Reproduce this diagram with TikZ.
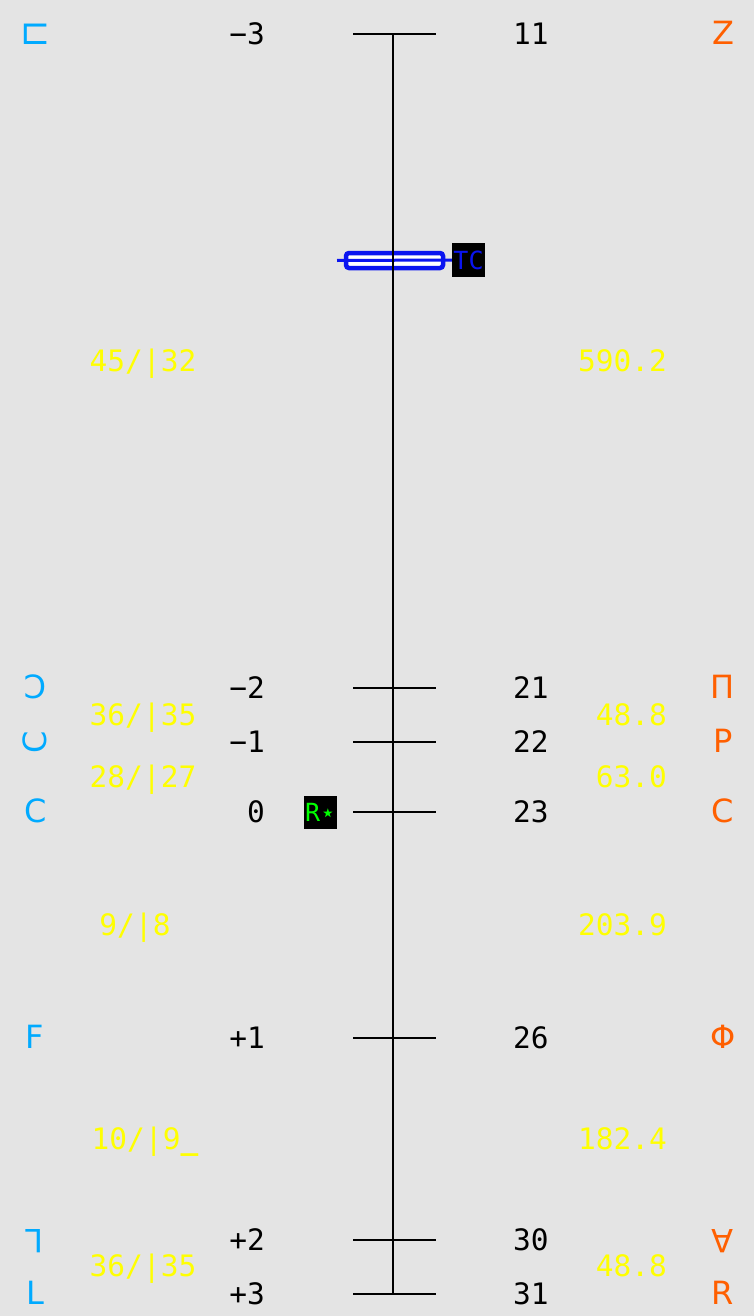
\documentclass[tikz,border=0pt]{standalone}
\usepackage{fontspec}
\newfontfamily\monof{DejaVu Sans Mono}
\newfontfamily\sansf{DejaVu Sans}
\definecolor{bgc}{HTML}{E4E4E4}
\definecolor{glblue}{HTML}{00AAFF}
\definecolor{glorange}{HTML}{FF5F00}
\definecolor{ylw}{HTML}{FFFF00}
\definecolor{mkblue}{HTML}{0A14F0}
\definecolor{grn}{HTML}{00FF00}
\tikzset{
  base/.style={inner sep=0pt, text height=21pt, text depth=0pt},
  lnum/.style={base, anchor=east, font=\monof\fontsize{29.5}{30}\selectfont, text=black},
  rnum/.style={base, anchor=west, font=\monof\fontsize{29.5}{30}\selectfont, text=black},
  yl/.style={base, anchor=center, font=\monof\fontsize{29.5}{30}\selectfont, text=ylw},
  yr/.style={base, anchor=east, font=\monof\fontsize{29.5}{30}\selectfont, text=ylw},
  bg/.style={base, anchor=center, font=\sansf\fontsize{32}{32}\selectfont, text=glblue},
  og/.style={base, anchor=center, font=\sansf\fontsize{32}{32}\selectfont, text=glorange},
  tickline/.style={line width=2pt, black},
  tag/.style={fill=black, minimum width=33pt, minimum height=34pt, inner sep=0pt, font=\monof\fontsize{25}{25}\selectfont},
}
\begin{document}
\begin{tikzpicture}[x=1pt,y=-1pt]
\fill[bgc] (0,0) rectangle (754,1316);
\useasboundingbox (0,0) rectangle (754,1316);

% marker TC
\draw[mkblue, line width=4.5pt, fill=white, rounded corners=3pt] (346,253) rectangle (443,268);
\coordinate (mL) at (337,260.5);
\node[tag, text=mkblue] (tc) at (468.5,260) {TC};
\draw[mkblue, line width=3pt] (mL) -- (tc.west);

% axis
\coordinate (atop) at (393,34);
\coordinate (abot) at (393,1294);
\draw[tickline] (atop) -- (abot);

% ticks
\foreach \y/\n in {34/a,688/b,742/c,812/d,1038/e,1240/f,1294/g}{
  \coordinate (tl\n) at (353,\y);
  \coordinate (tr\n) at (436,\y);
  \draw[tickline] (tl\n) -- (tr\n);
}

% left numbers
\node[lnum] (ln1) at (265,34) {−3};
\node[lnum] (ln2) at (265,688) {−2};
\node[lnum] (ln3) at (265,742) {−1};
\node[lnum] (ln4) at (265,812) {0};
\node[lnum] (ln5) at (265,1038) {+1};
\node[lnum] (ln6) at (265,1240) {+2};
\node[lnum] (ln7) at (265,1294) {+3};

% right numbers
\node[rnum] (rn1) at (513,34) {11};
\node[rnum] (rn2) at (513,688) {21};
\node[rnum] (rn3) at (513,742) {22};
\node[rnum] (rn4) at (513,812) {23};
\node[rnum] (rn5) at (513,1038) {26};
\node[rnum] (rn6) at (513,1240) {30};
\node[rnum] (rn7) at (513,1294) {31};

% blue glyphs
\node[inner sep=0pt, anchor=center, text=glblue, font=\sansf\fontsize{36}{36}\selectfont] (bg1) at (35.5,34) {⊏};
\node[bg, xscale=-1] (bg2) at (35,688) {C};
\node[bg, rotate=90] (bg3) at (36,742) {C};
\node[bg] (bg4) at (36,812) {C};
\node[bg] (bg5) at (35,1038) {F};
\node[bg, rotate=180] (bg6) at (35,1240) {L};
\node[bg] (bg7) at (35,1294) {L};

% orange glyphs
\node[og] (og1) at (723,34) {Z};
\node[og] (og2) at (723,688) {Π};
\node[og] (og3) at (723,742) {P};
\node[og] (og4) at (723,812) {C};
\node[og] (og5) at (723,1038) {Φ};
\node[og, rotate=180] (og6) at (723,1240) {A};
\node[og] (og7) at (723,1294) {R};

% yellow left
\node[yl] (yl1) at (143,361) {45/|32};
\node[yl] (yl2) at (143,715) {36/|35};
\node[yl] (yl3) at (143,777) {28/|27};
\node[yl] (yl4) at (135,925) {9/|8};
\node[yl] (yl5) at (145,1139) {10/|9{\bfseries\string_}};
\node[yl] (yl6) at (143,1266) {36/|35};

% yellow right
\node[yr] (yr1) at (667,361) {590.2};
\node[yr] (yr2) at (667,715) {48.8};
\node[yr] (yr3) at (667,777) {63.0};
\node[yr] (yr4) at (667,925) {203.9};
\node[yr] (yr5) at (667,1139) {182.4};
\node[yr] (yr6) at (667,1266) {48.8};

% R* tag
\node[tag, text=grn, minimum height=33pt] (rs) at (320.5,812.5) {R{\sansf ⋆}};
\end{tikzpicture}
\end{document}
